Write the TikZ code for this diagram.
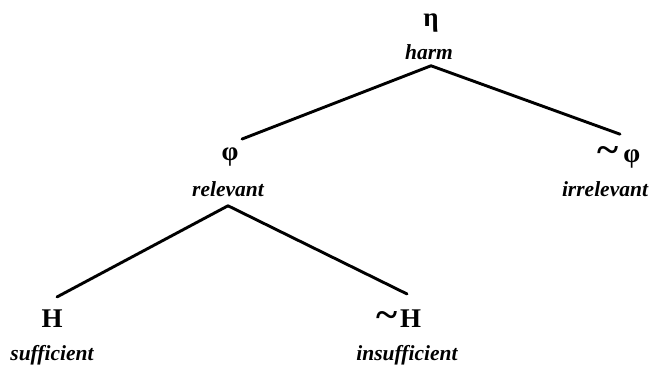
\documentclass[tikz,border=0pt]{standalone}
\usepackage{fontspec}
\setmainfont{Liberation Serif}
\newcommand{\bigtilde}{\raisebox{0.5pt}{\scalebox{1.5}[1.4]{\textasciitilde}}}
\begin{document}
\begin{tikzpicture}[x=1pt,y=-1pt,
  sym/.style={inner sep=0pt,font=\fontsize{27}{30}\selectfont\bfseries},
  lab/.style={inner sep=0pt,font=\fontsize{21.5}{24}\selectfont\bfseries\itshape},
  edge/.style={line width=2.9pt,line cap=round,line join=round}]
\useasboundingbox (0,0) rectangle (653,367);
\node[sym] (eta) at (431,23) {η};
\node[lab] (harm) at (429,52) {harm};
\node[sym] (phi) at (230,157.5) {φ};
\node[lab] (rel) at (228,189) {relevant};
\node[sym] (nphi) at (619,157.5) {\bigtilde\,φ};
\node[lab] (irr) at (605,189.5) {irrelevant};
\node[sym] (H) at (52,319) {H};
\node[lab] (suf) at (52,355) {sufficient};
\node[sym] (nH) at (399,319) {\bigtilde\kern2pt H};
\node[lab] (ins) at (407,355) {insufficient};
\draw[edge] ([xshift=2pt,yshift=-6pt]harm.south) -- ([xshift=12pt,yshift=9pt]phi.north);
\draw[edge] ([xshift=2pt,yshift=-6pt]harm.south) -- ([xshift=1pt,yshift=12pt]nphi.north);
\draw[edge] ([yshift=-9pt]rel.south) -- ([xshift=5pt,yshift=13pt]H.north);
\draw[edge] ([yshift=-9pt]rel.south) -- ([xshift=8pt,yshift=16pt]nH.north);
\end{tikzpicture}
\end{document}
